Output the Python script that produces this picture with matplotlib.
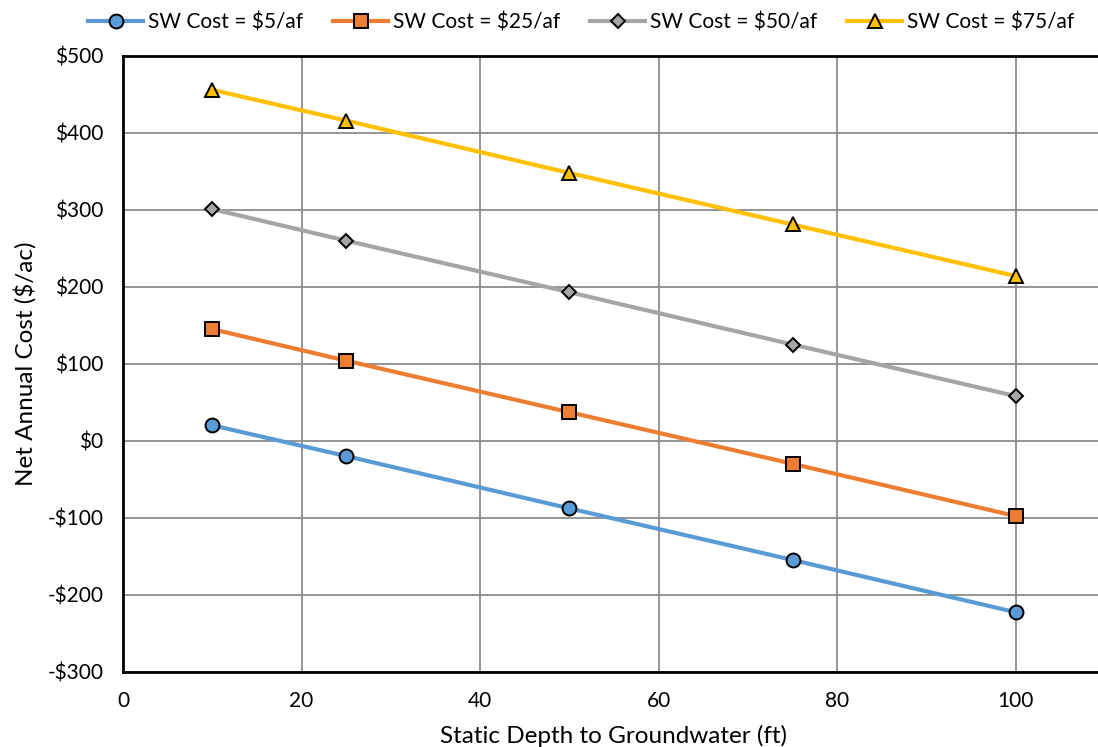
import numpy as np
import matplotlib.pyplot as plt
from matplotlib.ticker import FuncFormatter

# =====================================================
# Data
# =====================================================

depth = [10, 25, 50, 75, 100]

cost_5 = [20, -20, -88, -155, -223]
cost_25 = [145, 104, 37, -30, -98]
cost_50 = [301, 260, 193, 125, 58]
cost_75 = [456, 416, 348, 281, 214]

labels = [
    "SW Cost = $5/af",
    "SW Cost = $25/af",
    "SW Cost = $50/af",
    "SW Cost = $75/af"
]

# =====================================================
# Styles
# =====================================================

colors = ["#5B9BD5", "#ED7D31", "#A5A5A5", "#FFC000"]
markers = ["o", "s", "D", "^"]
msizes = [10, 10, 7, 10]

plt.rcParams["font.family"] = ["Lato", "DejaVu Sans"]

fig = plt.figure(figsize=(10.98, 7.47), dpi=100)

# axes right edge goes slightly past the figure (cropped like the reference)
ax = fig.add_axes([123 / 1098, 1 - 671.5 / 747, 982 / 1098, 615.5 / 747])

for vals, c, m, ms, lab in zip(
    [cost_5, cost_25, cost_50, cost_75], colors, markers, msizes, labels
):
    ax.plot(
        depth,
        vals,
        color=c,
        lw=3,
        marker=m,
        markersize=ms,
        markerfacecolor=c,
        markeredgecolor="black",
        markeredgewidth=1.4,
        label=lab,
        zorder=3
    )

ax.set_xlim(0, 110)
ax.set_ylim(-300, 500)
ax.set_xticks(np.arange(0, 101, 20))
ax.set_yticks(np.arange(-300, 501, 100))

ax.yaxis.set_major_formatter(
    FuncFormatter(lambda v, p: f"-${abs(v):.0f}" if v < 0 else f"${v:.0f}")
)

ax.grid(True, color="#8C8C8C", lw=1.3)
ax.set_axisbelow(True)
ax.tick_params(length=0, labelsize=15, colors="black", pad=14)

for s in ["left", "bottom", "top"]:
    ax.spines[s].set_color("black")
    ax.spines[s].set_linewidth(2)
ax.spines["right"].set_visible(False)

ax.set_xlabel("Static Depth to Groundwater (ft)", fontsize=17.5, labelpad=10)
ax.set_ylabel("Net Annual Cost ($/ac)", fontsize=17.5, labelpad=8)

fig.legend(
    loc="upper center",
    bbox_to_anchor=(581 / 1098, 1.008),
    ncol=4,
    frameon=False,
    fontsize=15,
    handlelength=2.65,
    handletextpad=0.22,
    columnspacing=1.45
)

fig.savefig("out.png", dpi=100)
